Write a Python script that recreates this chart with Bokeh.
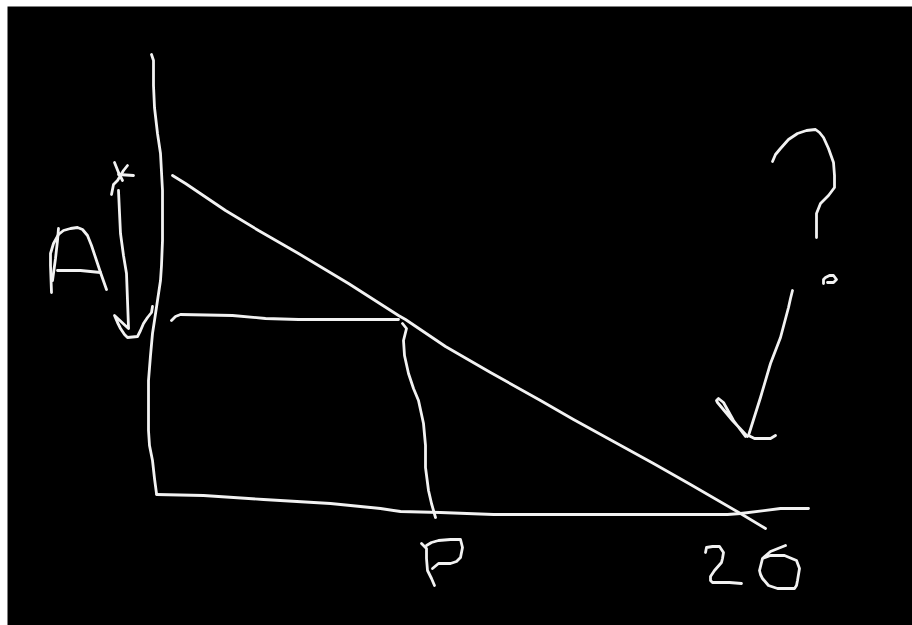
from bokeh.plotting import figure
from bokeh.embed import file_html
from bokeh.resources import INLINE
from bokeh.models import Range1d

# Hand-drawn strokes: (x values, y values)
y_axis_x = [151,153,153,154,157,160,162,162,161,160,157,154,152,150,148,148,149,152,154,156]
y_axis_y = [54,60,85,107,133,153,190,240,265,280,300,320,333,355,380,430,445,460,478,493]
x_axis_x = [156,203,263,330,380,400,440,493,727,740,780,808]
x_axis_y = [494,495,499,503,508,511,512,514,514,513,508,508]
diag_x = [172,185,225,258,298,348,398,405,445,490,540,573,613,653,690,740,765]
diag_y = [175,183,210,230,253,283,315,319,346,372,400,419,441,463,484,513,528]
horiz_x = [171,175,180,232,265,298,398]
horiz_y = [320,316,314,315,318,319,319]
drop_x = [402,406,403,404,408,413,418,423,425,425,428,431,435]
drop_y = [323,328,340,355,373,388,400,423,445,467,490,503,517]
p_stem_x = [421,426,426,427,431,434]
p_stem_y = [543,548,558,570,578,585]
p_bowl_x = [426,431,438,450,460,462,460,456,450,438,432]
p_bowl_y = [545,542,540,539,539,547,557,561,563,563,568]
two_x = [705,706,712,719,723,722,721,714,710,710,712,729,741]
two_y = [552,547,546,546,552,558,562,570,576,580,582,582,583]
six_x = [785,770,762,759,760,762,768,777,794,796,797,799,796,784,770,762]
six_y = [545,551,558,570,574,578,585,588,588,585,580,568,560,555,555,558]
a_left_x = [51,50,50,53,58,63,70,77,82,87,91,95,100,106]
a_left_y = [292,265,253,243,234,230,228,227,229,235,245,257,272,289]
a_second_x = [58,57,55,52]
a_second_y = [228,240,258,280]
a_bar_x = [57,80,100]
a_bar_y = [270,270,272]
x1_x = [114,118,122]
x1_y = [162,172,180]
x2_x = [127,123,117,113,111]
x2_y = [165,170,180,184,194]
x3_x = [118,133]
x3_y = [174,175]
shaft_x = [118,119,120,123,126,127,128]
shaft_y = [190,212,233,255,273,300,327]
head_x = [128,114,117,120,124,127,137,140,143,147,151,152]
head_y = [328,315,322,328,334,337,336,330,323,317,312,306]
q_x = [772,775,780,788,797,806,815,819,823,828,833,834,834,828,820,816,816]
q_y = [161,154,148,139,133,130,129,132,137,148,162,175,187,195,203,213,237]
dot_x = [823,823,825,829,833,836,833,827]
dot_y = [283,279,277,275,275,279,282,282]
arrow_x = [792,790,788,784,780,770,760,748,754,760,770,775]
arrow_y = [290,298,307,322,337,363,397,435,438,438,438,435]
arrow_head_x = [747,732,717,716,718,723,733,745]
arrow_head_y = [436,420,402,400,398,402,420,436]

strokes = [(y_axis_x,y_axis_y),(x_axis_x,x_axis_y),(diag_x,diag_y),(horiz_x,horiz_y),(drop_x,drop_y),
           (p_stem_x,p_stem_y),(p_bowl_x,p_bowl_y),(two_x,two_y),(six_x,six_y),
           (a_left_x,a_left_y),(a_second_x,a_second_y),(a_bar_x,a_bar_y),
           (x1_x,x1_y),(x2_x,x2_y),(x3_x,x3_y),(shaft_x,shaft_y),(head_x,head_y),
           (q_x,q_y),(dot_x,dot_y),(arrow_x,arrow_y),(arrow_head_x,arrow_head_y)]

p = figure(width=912, height=625, output_backend="svg", toolbar_location=None,
           x_range=Range1d(7,912), y_range=Range1d(625,6),
           background_fill_color="black", border_fill_color="white",
           min_border_left=7, min_border_top=6, min_border_right=0, min_border_bottom=0,
           outline_line_color=None)
p.axis.visible = False
p.grid.visible = False
for xs, ys in strokes:
    p.line(xs, ys, line_color="#f2f2f2", line_width=2.8, line_join="round", line_cap="round")

open("out.html","w").write(file_html(p, INLINE))
